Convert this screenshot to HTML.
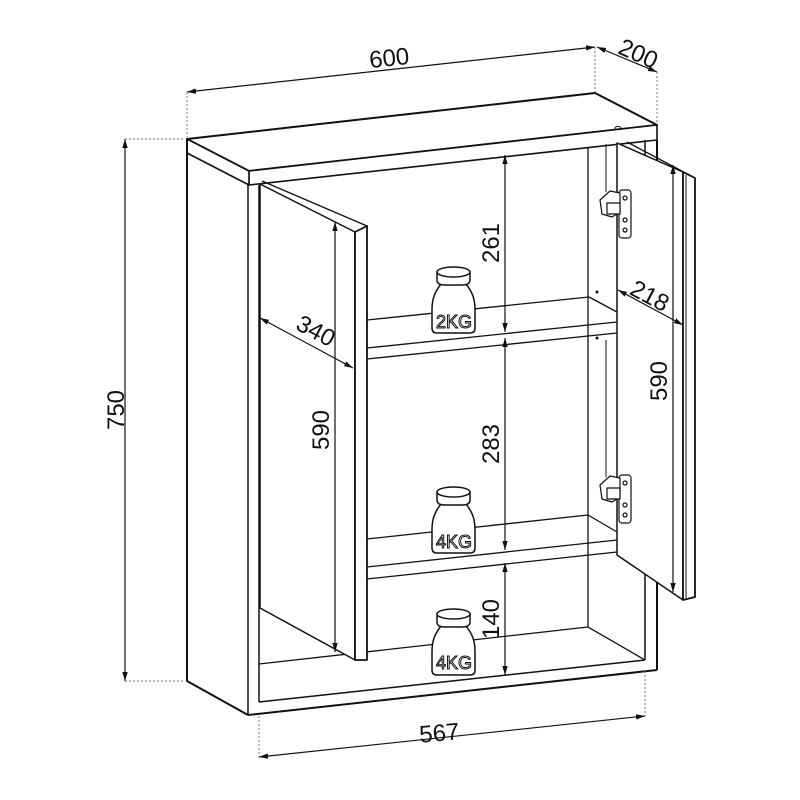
<!DOCTYPE html>
<html><head><meta charset="utf-8"><style>
html,body{margin:0;padding:0;background:#fff;}
svg{display:block;}
text{font-family:"Liberation Sans",sans-serif;font-size:24px;fill:#111;}
.w{font-size:18px;fill:#fff;stroke:#111;stroke-width:1;}
</style></head><body>
<svg width="800" height="800" viewBox="0 0 800 800" xmlns="http://www.w3.org/2000/svg">
<defs>
<marker id="a" viewBox="0 0 10 10" refX="10" refY="5" markerWidth="9" markerHeight="9" orient="auto-start-reverse" markerUnits="userSpaceOnUse"><path d="M0,2 L10,5 L0,8 z" fill="#111"/></marker>
</defs>
<g fill="none" stroke="#111" stroke-linejoin="round">
<polygon points="187,139 595,93 657,125 249,171" fill="#fff" stroke-width="2"/>
<polygon points="249,171 657,125 657,140 249,185" fill="#fff" stroke-width="1.6"/>
<polygon points="187,139 249,171 249,185 187,153" fill="#fff" stroke-width="1.6"/>
<polyline points="187,139 187,681 248,715" stroke-width="2"/>
<line x1="248" y1="185" x2="248" y2="715" stroke-width="1.5"/>
<line x1="259" y1="185" x2="259" y2="702" stroke-width="1.5"/>
<line x1="645" y1="140" x2="645" y2="660" stroke-width="1.5"/>
<line x1="657" y1="140" x2="657" y2="670" stroke-width="2"/>
<line x1="259" y1="702" x2="645" y2="660" stroke-width="1.5"/>
<line x1="248" y1="715" x2="657" y2="670" stroke-width="2"/>
<line x1="588" y1="147" x2="588" y2="627" stroke-width="1.3"/>
<line x1="259" y1="664" x2="588" y2="627" stroke-width="1.3"/>
<line x1="588" y1="627" x2="645" y2="660" stroke-width="1.3"/>
<line x1="367" y1="320" x2="589" y2="297" stroke-width="1.3"/>
<line x1="589" y1="297" x2="617" y2="312" stroke-width="1.3"/>
<line x1="367" y1="348" x2="617" y2="322" stroke-width="1.3"/>
<line x1="367" y1="359" x2="617" y2="333" stroke-width="1.3"/>
<line x1="367" y1="539" x2="588" y2="515" stroke-width="1.3"/>
<line x1="588" y1="515" x2="617" y2="532" stroke-width="1.3"/>
<line x1="367" y1="567" x2="617" y2="540" stroke-width="1.3"/>
<line x1="367" y1="579" x2="617" y2="552" stroke-width="1.3"/>
<polygon points="260,184 355,232 355,660 260,608" fill="#fff" stroke-width="1.5"/>
<polygon points="355,232 367,226 367,660 355,660" fill="#fff" stroke-width="1.8"/>
<line x1="262" y1="181" x2="367" y2="226" stroke-width="1.3"/>
<polygon points="617,143 683,172 683,600 617,555" fill="#fff" stroke-width="1.5"/>
<polygon points="683,172 695,178 695,597 683,600" fill="#fff" stroke-width="1.8"/>
<line x1="627" y1="142" x2="695" y2="178" stroke-width="1.3"/>
<line x1="686" y1="175" x2="686" y2="598" stroke-width="1"/>
<g stroke-width="1.2" fill="#fff">
<rect x="619" y="190" width="12" height="48" rx="3"/>
<circle cx="625" cy="198" r="2"/><circle cx="625" cy="220" r="2"/><circle cx="625" cy="230" r="2"/>
<path d="M600,200 L610,191 L620,193 L620,212 L612,217 L602,214 z"/>
<rect x="607" y="203" width="13" height="11"/>
<rect x="619" y="475" width="12" height="48" rx="3"/>
<circle cx="625" cy="483" r="2"/><circle cx="625" cy="505" r="2"/><circle cx="625" cy="515" r="2"/>
<path d="M600,485 L610,476 L620,478 L620,497 L612,502 L602,499 z"/>
<rect x="607" y="488" width="13" height="11"/>
</g>
<line x1="606" y1="144" x2="606" y2="192" stroke-width="1"/>
<line x1="606" y1="340" x2="606" y2="477" stroke-width="1"/>
<ellipse cx="618" cy="128" rx="3" ry="1.5" stroke-width="1"/>
<circle cx="597" cy="292" r="1" fill="#111"/>
<circle cx="597" cy="338" r="1" fill="#111"/>
<g stroke-width="1.5" fill="#fff">
<path d="M442,283 C434,292 432,300 432,310 L432,328 Q432,333 437,333 L470,333 Q475,333 475,328 L475,310 C475,300 473,292 465,283 z"/>
<path d="M437,272 L437,280 Q437,285 445,285 L462,285 Q470,285 470,280 L470,272"/>
<ellipse cx="453.5" cy="272" rx="16.5" ry="5"/>
<path d="M442,503 C434,512 432,520 432,530 L432,548 Q432,553 437,553 L470,553 Q475,553 475,548 L475,530 C475,520 473,512 465,503 z"/>
<path d="M437,492 L437,500 Q437,505 445,505 L462,505 Q470,505 470,500 L470,492"/>
<ellipse cx="453.5" cy="492" rx="16.5" ry="5"/>
<path d="M442,625 C434,634 432,642 432,652 L432,670 Q432,675 437,675 L470,675 Q475,675 475,670 L475,652 C475,642 473,634 465,625 z"/>
<path d="M437,614 L437,622 Q437,627 445,627 L462,627 Q470,627 470,622 L470,614"/>
<ellipse cx="453.5" cy="614" rx="16.5" ry="5"/>
</g>
<g stroke-width="1.2">
<line x1="187" y1="92" x2="595" y2="47" marker-start="url(#a)" marker-end="url(#a)"/>
<line x1="597" y1="47" x2="657" y2="72" marker-start="url(#a)" marker-end="url(#a)"/>
<line x1="125" y1="139" x2="125" y2="681" marker-start="url(#a)" marker-end="url(#a)"/>
<line x1="259" y1="757" x2="645" y2="716" marker-start="url(#a)" marker-end="url(#a)"/>
<line x1="505" y1="155" x2="505" y2="332" marker-start="url(#a)" marker-end="url(#a)"/>
<line x1="505" y1="338" x2="505" y2="550" marker-start="url(#a)" marker-end="url(#a)"/>
<line x1="505" y1="563" x2="505" y2="675" marker-start="url(#a)" marker-end="url(#a)"/>
<line x1="335" y1="222" x2="335" y2="652" marker-start="url(#a)" marker-end="url(#a)"/>
<line x1="673" y1="165" x2="673" y2="592" marker-start="url(#a)" marker-end="url(#a)"/>
<line x1="260" y1="318" x2="353" y2="368" marker-start="url(#a)" marker-end="url(#a)"/>
<line x1="618" y1="290" x2="683" y2="325" marker-start="url(#a)" marker-end="url(#a)"/>
</g>
<g stroke-width="1" stroke-dasharray="2,2" stroke="#777">
<line x1="187" y1="92" x2="187" y2="137"/>
<line x1="595" y1="47" x2="595" y2="92"/>
<line x1="657" y1="72" x2="657" y2="124"/>
<line x1="125" y1="139" x2="185" y2="139"/>
<line x1="125" y1="681" x2="185" y2="681"/>
<line x1="259" y1="716" x2="259" y2="757"/>
<line x1="645" y1="671" x2="645" y2="716"/>
</g>
</g>
<text x="390" y="66" text-anchor="middle" transform="rotate(-6 390 66)">600</text>
<text x="635" y="61" text-anchor="middle" transform="rotate(24 635 61)">200</text>
<text x="0" y="0" text-anchor="middle" transform="translate(124,410) rotate(-90)">750</text>
<text x="440" y="741" text-anchor="middle" transform="rotate(-5 440 741)">567</text>
<text x="0" y="0" text-anchor="middle" transform="translate(499,243) rotate(-90)">261</text>
<text x="0" y="0" text-anchor="middle" transform="translate(499,444) rotate(-90)">283</text>
<text x="0" y="0" text-anchor="middle" transform="translate(499,619) rotate(-90)">140</text>
<text x="0" y="0" text-anchor="middle" transform="translate(329,430) rotate(-90)">590</text>
<text x="0" y="0" text-anchor="middle" transform="translate(667,381) rotate(-90)">590</text>
<text x="312" y="338" text-anchor="middle" transform="rotate(28 312 338)">340</text>
<text x="646" y="303" text-anchor="middle" transform="rotate(28 646 303)">218</text>
<text class="w" x="454" y="328" text-anchor="middle">2KG</text>
<text class="w" x="454" y="548" text-anchor="middle">4KG</text>
<text class="w" x="454" y="669" text-anchor="middle">4KG</text>
</svg>
</body></html>
